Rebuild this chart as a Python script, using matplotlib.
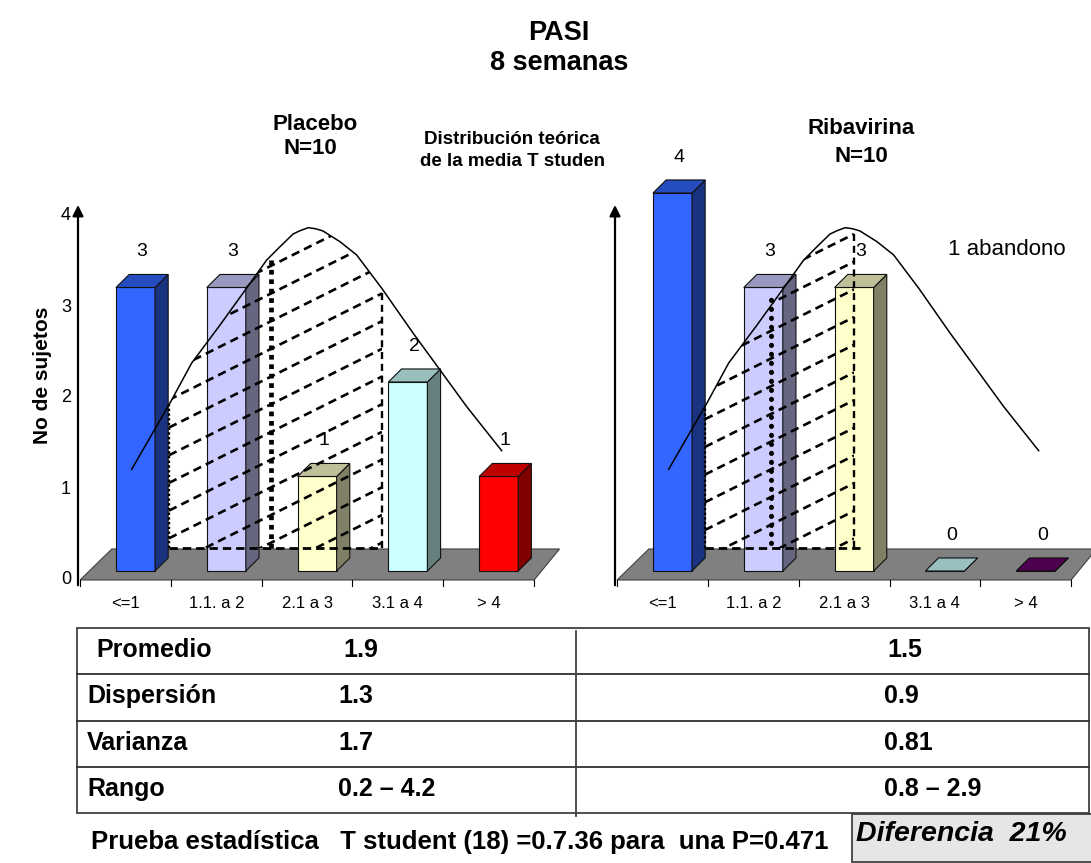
import numpy as np
import matplotlib.pyplot as plt
import matplotlib.colors as mcolors
from matplotlib.patches import Polygon, Rectangle

plt.rcParams['font.family'] = ['Liberation Sans', 'DejaVu Sans']

W, H = 1091, 863

categorias = ['<=1', '1.1. a 2', '2.1 a 3', '3.1 a 4', '> 4']
placebo = [3, 3, 1, 2, 1]
ribavirina = [4, 3, 3, 0, 0]
colores_placebo = ['#3366FF', '#CCCCFF', '#FFFFCC', '#CCFFFF', '#FF0000']
colores_ribavirina = ['#3366FF', '#CCCCFF', '#FFFFCC', '#CCFFFF', '#660066']

# distribucion teorica de la media (x en categorias, y en sujetos)
curva_x = [0.068, 0.490, 0.729, 1.041, 1.335, 1.555, 1.702, 1.845, 1.927, 2.013,
           2.093, 2.175, 2.362, 2.546, 2.822, 3.166, 3.464, 3.758, 4.143]
curva_y = [1.076, 1.778, 2.201, 2.603, 2.995, 3.291, 3.432, 3.566, 3.603, 3.633,
           3.622, 3.598, 3.485, 3.344, 2.992, 2.519, 2.127, 1.739, 1.273]

estadisticos = ['Promedio', 'Dispersión', 'Varianza', 'Rango']
placebo_est = ['1.9', '1.3', '1.7', '0.2 – 4.2']
ribavirina_est = ['1.5', '0.9', '0.81', '0.8 – 2.9']

fig = plt.figure(figsize=(W / 100, H / 100), dpi=100)

# capa en pixeles para textos y tabla
ov = fig.add_axes([0, 0, 1, 1])
ov.set_xlim(0, W)
ov.set_ylim(H, 0)
ov.axis('off')


def px_axes(x0, x1, y_top, y_bot, xlim, ylim):
    ax = fig.add_axes([x0 / W, 1 - y_bot / H, (x1 - x0) / W, (y_bot - y_top) / H])
    ax.set_xlim(*xlim)
    ax.set_ylim(*ylim)
    return ax


def shade(color, f):
    r, g, b = mcolors.to_rgb(color)
    return (r * f, g * f, b * f)


def panel(x_off, valores, colores, zona, media, redondo, etiquetas_y):
    ux, uy = 90.8, 94.5
    cx0 = 125.5 + x_off
    base = 571
    ax = px_axes(cx0 - 0.5 * ux, cx0 + 4.5 * ux, base - 4.2 * uy, base + 0.5 * uy,
                 (-0.5, 4.5), (-0.5, 4.2))
    ax.axis('off')

    # piso gris
    piso = Polygon([(-0.5, -0.095), (4.5, -0.095), (4.78, 0.233), (-0.15, 0.233)],
                   closed=True, fc='#808080', ec='#404040', lw=0.8, zorder=1,
                   clip_on=False)
    ax.add_patch(piso)
    for b in np.arange(-0.5, 5.0, 1.0):
        ax.plot([b, b], [-0.095, -0.155], color='k', lw=0.8, clip_on=False)

    # barras 3D
    w, dx, dy = 0.43, 0.145, 0.138
    for i, (v, c) in enumerate(zip(valores, colores)):
        xl = i + 0.11 - w / 2
        xr = xl + w
        kw = dict(ec='#111111', lw=0.8, zorder=2, clip_on=False)
        ax.add_patch(Rectangle((xl, 0), w, v, fc=c, **kw))
        ax.add_patch(Polygon([(xr, 0), (xr + dx, dy), (xr + dx, v + dy), (xr, v)],
                             closed=True, fc=shade(c, 0.5), **kw))
        ax.add_patch(Polygon([(xl, v), (xl + dx, v + dy), (xr + dx, v + dy), (xr, v)],
                             closed=True, fc=shade(c, 0.75), **kw))
        ax.text(i + 0.11 + dx / 2, v + dy + 0.24, str(v), ha='center', va='center',
                fontsize=14, zorder=6)
        ax.text(i, -0.349, categorias[i], ha='center', va='center', fontsize=12)

    # zona sombreada bajo la curva
    xa, xb, fase, x_fin = zona
    piso_z = 0.243
    xs = np.linspace(xa, xb, 80)
    ys = np.interp(xs, curva_x, curva_y)
    zona_patch = Polygon([(xa, piso_z)] + list(zip(xs, ys)) + [(xb, piso_z)],
                         closed=True, fc='none', ec='none')
    ax.add_patch(zona_patch)
    pend, paso = 0.48, 0.293
    for k in range(-12, 16):
        y0 = fase + k * paso
        ln, = ax.plot([xa, xb], [y0, y0 + pend * (xb - xa)], color='k', lw=1.9,
                      ls=(0, (3.2, 2.0)), zorder=4)
        ln.set_clip_path(zona_patch)
    ax.plot([xa, xa], [piso_z, np.interp(xa, curva_x, curva_y)], color='k',
            lw=1.7, ls=(0, (1, 1)), zorder=4)
    ax.plot([xb, xb], [piso_z, np.interp(xb, curva_x, curva_y)], color='k',
            lw=1.7, ls=(0, (3, 2)), zorder=4)
    ax.plot([xa, x_fin], [piso_z, piso_z], color='k', lw=2.0, ls=(0, (3, 1.8)), zorder=4)

    # media
    mx, m0, m1 = media
    if redondo:
        ax.plot([mx, mx], [m0, m1], color='k', lw=3.6, ls=(0, (0.05, 1.75)),
                dash_capstyle='round', zorder=5)
    else:
        ax.plot([mx, mx], [m0, m1], color='k', lw=3.4, ls=(0, (1, 1)),
                dash_capstyle='butt', zorder=5)

    ax.plot(curva_x, curva_y, color='k', lw=1.1, zorder=5)

    # eje vertical con flecha
    x_eje = 78 + x_off
    fa = px_axes(x_eje, x_eje + 20, 214, 578, (0, 1), (0, 4))
    fa.patch.set_visible(False)
    for s in fa.spines.values():
        s.set_visible(False)
    fa.set_xticks([])
    if etiquetas_y:
        fa.set_yticks(range(5))
        fa.tick_params(axis='y', length=0, pad=5, labelsize=13)
    else:
        fa.set_yticks([])
    fa.annotate('', xy=(0, (578 - 205) / (578 - 214)), xytext=(0, -0.02),
                xycoords='axes fraction', textcoords='axes fraction',
                arrowprops=dict(arrowstyle='-|>', lw=1.6, color='k',
                                mutation_scale=16, shrinkA=0, shrinkB=0),
                annotation_clip=False)
    return ax


panel(0, placebo, colores_placebo, (0.479, 2.825, 0.346, 2.825),
      (1.60, 0.243, 3.31), False, True)
panel(537, ribavirina, colores_ribavirina, (0.468, 2.109, 0.434, 2.23),
      (1.19, 0.296, 2.90), True, False)

# titulos
ov.text(559, 33, 'PASI', ha='center', va='center', fontsize=19.5, fontweight='bold')
ov.text(559, 63, '8 semanas', ha='center', va='center', fontsize=19.5, fontweight='bold')
ov.text(315, 125, 'Placebo', ha='center', va='center', fontsize=16, fontweight='bold')
ov.text(310, 148, 'N=10', ha='center', va='center', fontsize=16, fontweight='bold')
ov.text(512, 140, 'Distribución teórica', ha='center', va='center', fontsize=13.5,
        fontweight='bold')
ov.text(513, 162, 'de la media T studen', ha='center', va='center', fontsize=13.5,
        fontweight='bold')
ov.text(861, 129, 'Ribavirina', ha='center', va='center', fontsize=16, fontweight='bold')
ov.text(861, 156, 'N=10', ha='center', va='center', fontsize=16, fontweight='bold')
ov.text(948, 249, '1 abandono', ha='left', va='center', fontsize=16)
ov.text(42, 375, 'No de sujetos', ha='center', va='center', rotation=90, fontsize=15,
        fontweight='bold')

# tabla de estadisticos
t_izq, t_der, t_sup, t_inf = 77, 1088.5, 627.7, 813.3
filas = len(estadisticos)
bordes = [t_sup + (t_inf - t_sup) * k / filas for k in range(filas + 1)]
ov.add_patch(Rectangle((t_izq, t_sup), t_der - t_izq, t_inf - t_sup, fill=False,
                       ec='#404040', lw=1.3))
for y in bordes[1:-1]:
    ov.plot([t_izq, t_der], [y, y], color='#303030', lw=1.3)
ov.plot([576, 576], [631, 816], color='#404040', lw=1.3)
for i, (nom, p, r) in enumerate(zip(estadisticos, placebo_est, ribavirina_est)):
    yc = (bordes[i] + bordes[i + 1]) / 2 - 1
    sang = 9 if i == 0 else 0
    ov.text(87 + sang, yc, nom, ha='left', va='center', fontsize=18, fontweight='bold')
    ov.text(338 + sang * 0.6, yc, p, ha='left', va='center', fontsize=18, fontweight='bold')
    ov.text(884 + sang * 0.4, yc, r, ha='left', va='center', fontsize=18, fontweight='bold')

ov.text(91, 842, 'Prueba estadística   T student (18) =0.7.36 para  una P=0.471',
        ha='left', va='center', fontsize=18.5, fontweight='bold')
ov.add_patch(Rectangle((852, 814), 260, 48, fc='#E6E6E6', ec='#404040', lw=1.3))
ov.text(856, 834, 'Diferencia  21%', ha='left', va='center', fontsize=20.5,
        fontweight='bold', fontstyle='italic')

fig.savefig('out.png', dpi=100)
